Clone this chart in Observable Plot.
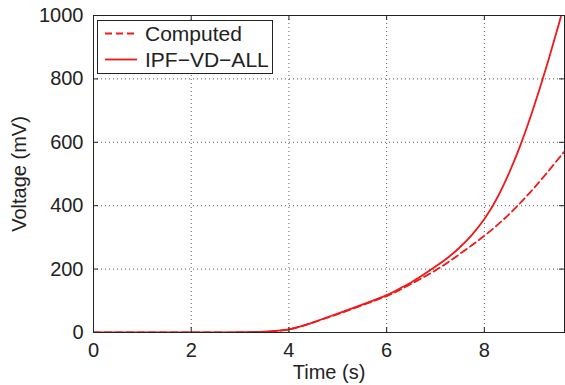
<!DOCTYPE html>
<html>
<head>
<meta charset="utf-8">
<script src="https://cdn.jsdelivr.net/npm/d3@7"></script>
<script src="https://cdn.jsdelivr.net/npm/@observablehq/plot@0.6"></script>
<style>
  html, body { margin: 0; padding: 0; background: #fff; }
  #chart { width: 565px; height: 385px; }
</style>
</head>
<body>
<div id="chart"></div>
<script>
const time     = [0, 0.5, 1, 1.5, 2, 2.5, 3, 3.5, 4, 4.5, 5, 5.5, 6, 6.25, 6.5, 6.75, 7, 7.25, 7.5, 7.75, 8, 8.25, 8.5, 8.75, 9, 9.25, 9.5, 9.64];
const ipfVdAll = [0, 0, 0, 0, 0, 0, 1, 3, 10, 32, 60, 88, 118, 137, 158, 182, 208, 236, 269, 309, 358, 421, 501, 596, 706, 828, 960, 1038];
const computed = [0, 0, 0, 0, 0, 0, 0, 2, 10, 32, 58, 86, 115, 133, 153, 174, 196, 221, 248, 276, 305, 337, 372, 411, 453, 498, 545, 571];
const xTicks = [0, 2, 4, 6, 8];
const yTicks = [0, 200, 400, 600, 800, 1000];
const seriesNames = ["Computed", "IPF\u2212VD\u2212ALL"];

const red = "#f01818";
const font = "'Liberation Sans', Arial, Helvetica, sans-serif";

const solidData = time.map((t, i) => ({t, v: ipfVdAll[i]}));
const dashData = time.map((t, i) => ({t, v: computed[i]}));

const plot = Plot.plot({
  width: 565,
  height: 385,
  marginLeft: 93,
  marginRight: 1,
  marginTop: 15,
  marginBottom: 53,
  style: {fontFamily: font, fontSize: "20px", color: "#222", background: "#fff"},
  x: {domain: [0, 9.64]},
  y: {domain: [0, 1000]},
  marks: [
    Plot.gridX([2, 4, 6, 8], {stroke: "#333", strokeOpacity: 0.8, strokeDasharray: "1,3"}),
    Plot.gridY([200, 400, 600, 800], {stroke: "#333", strokeOpacity: 0.8, strokeDasharray: "1,3"}),
    Plot.line(dashData, {x: "t", y: "v", stroke: red, strokeWidth: 1.8, strokeDasharray: "7,4", curve: "natural", clip: true}),
    Plot.line(solidData, {x: "t", y: "v", stroke: red, strokeWidth: 1.8, curve: "natural", clip: true}),
    Plot.frame({stroke: "#222", strokeOpacity: 1}),
    // inward ticks
    Plot.ruleX(xTicks, {stroke: "#222", insetTop: 312}),
    Plot.ruleX(xTicks, {stroke: "#222", insetBottom: 312}),
    Plot.ruleY(yTicks, {stroke: "#222", insetRight: 466}),
    Plot.ruleY(yTicks, {stroke: "#222", insetLeft: 466}),
    Plot.axisX({ticks: xTicks, tickSize: 0, tickPadding: 10, fontSize: 20, tickFormat: d => String(d), label: "Time (s)", labelAnchor: "center", labelArrow: "none", labelOffset: 46}),
    Plot.axisY({ticks: yTicks, tickSize: 0, tickPadding: 10, fontSize: 20, tickFormat: d => String(d), label: "Voltage (mV)", labelAnchor: "center", labelArrow: "none", labelOffset: 82})
  ]
});

document.getElementById("chart").appendChild(plot);

// legend box inside the plot area (top-left)
const svg = d3.select(plot.tagName.toLowerCase() === "svg" ? plot : plot.querySelector("svg"));
const lg = svg.append("g").attr("font-family", font).attr("font-size", "21px").attr("fill", "#222").attr("text-anchor", "start");
lg.append("rect").attr("x", 97.5).attr("y", 20.5).attr("width", 175).attr("height", 53)
  .attr("fill", "#fff").attr("stroke", "#222").attr("stroke-width", 1);
const rows = [{name: seriesNames[0], dash: "7,4", y: 33.5}, {name: seriesNames[1], dash: null, y: 59.5}];
rows.forEach(r => {
  const ln = lg.append("line").attr("x1", 105).attr("x2", 137).attr("y1", r.y).attr("y2", r.y)
    .attr("stroke", red).attr("stroke-width", 1.8);
  if (r.dash) ln.attr("stroke-dasharray", r.dash);
  lg.append("text").attr("x", 145).attr("y", r.y + 7.5).text(r.name);
});
</script>
</body>
</html>
